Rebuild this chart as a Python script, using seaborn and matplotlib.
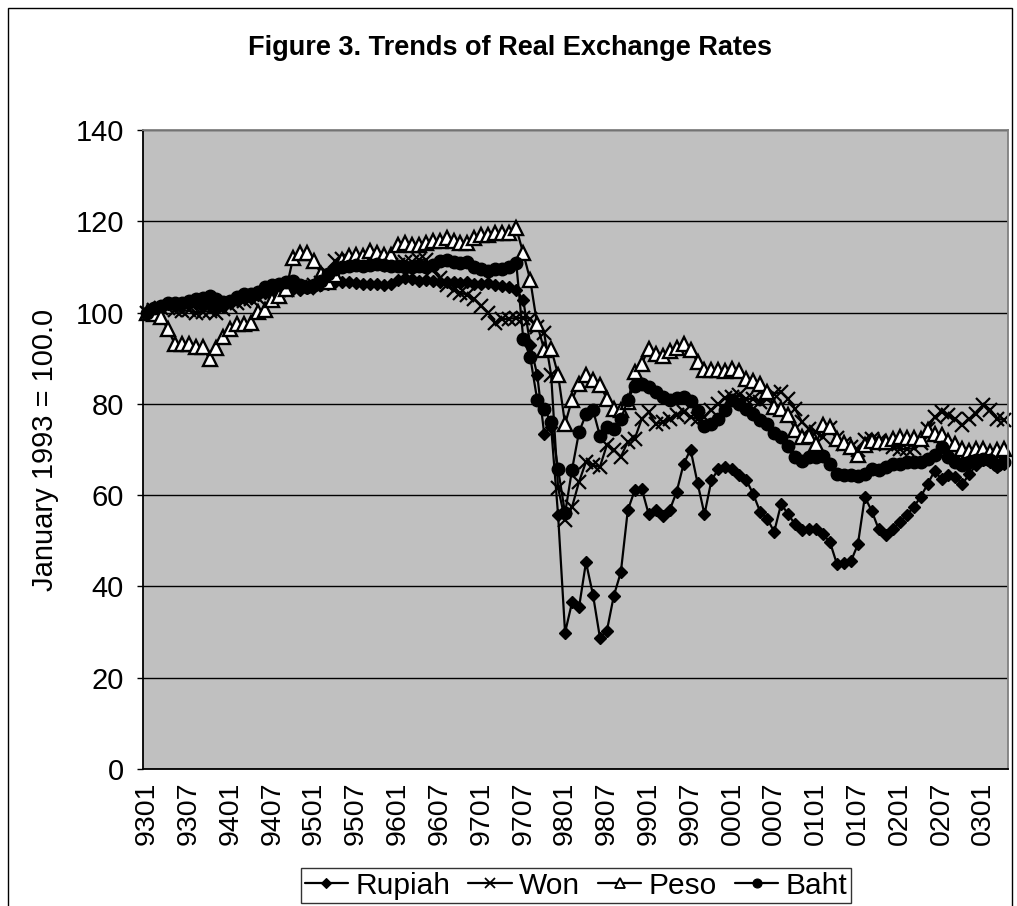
import matplotlib
matplotlib.use("Agg")
import matplotlib.pyplot as plt
import seaborn as sns
import pandas as pd
from matplotlib.lines import Line2D
from matplotlib.patches import Rectangle

# monthly index 9301 .. 0304 (124 months), January 1993 = 100
tick_labels = ["9301", "9307", "9401", "9407", "9501", "9507", "9601", "9607",
               "9701", "9707", "9801", "9807", "9901", "9907", "0001", "0007",
               "0101", "0107", "0201", "0207", "0301"]

rupiah = [100.0, 100.8, 101.5, 101.8, 101.5, 101.6, 102.0, 101.8, 101.5, 101.7, 101.4, 101.2,
          102.3, 102.8, 103.2, 103.3, 103.8, 104.3, 104.6, 104.8, 105.0, 105.2, 105.0, 105.3,
          105.6, 106.0, 106.3, 106.8, 106.6, 106.7, 106.5, 106.3, 106.2, 106.2, 106.0, 106.3,
          107.2, 107.5, 107.3, 107.0, 107.2, 107.0, 106.8, 106.6, 106.8, 106.5, 106.7, 106.3,
          106.2, 106.4, 106.0, 105.8, 105.5, 105.0, 102.8, 93.0, 86.4, 73.5, 75.0, 55.6,
          29.9, 36.5, 35.4, 45.3, 38.2, 28.8, 30.3, 38.0, 43.1, 56.7, 61.1, 61.4,
          55.8, 56.7, 55.4, 56.7, 60.7, 66.8, 70.0, 62.7, 55.8, 63.3, 65.7, 66.2,
          65.7, 64.4, 63.3, 60.2, 56.3, 54.8, 52.0, 58.1, 55.8, 53.6, 52.3, 52.5,
          52.5, 51.4, 49.7, 44.9, 45.1, 45.5, 49.2, 59.6, 56.5, 52.5, 51.2, 52.5,
          54.1, 55.6, 57.4, 59.6, 62.4, 65.3, 63.5, 64.4, 64.0, 62.4, 64.7, 66.6,
          67.7, 67.3, 66.2, 66.9]

won = [100.0, 100.5, 101.0, 101.0, 100.5, 100.3, 100.5, 100.0, 100.2, 100.3, 100.0, 100.8,
       101.5, 102.0, 102.5, 103.0, 103.3, 104.0, 104.5, 105.0, 105.0, 105.3, 105.5, 105.3,
       106.0, 106.5, 108.5, 111.3, 111.8, 111.5, 111.3, 111.0, 111.2, 111.0, 110.8, 110.5,
       110.5, 111.0, 111.0, 111.5, 111.6, 109.5, 107.5, 106.0, 105.0, 104.4, 103.8, 103.0,
       101.5, 100.0, 97.8, 98.5, 98.7, 98.8, 98.8, 98.7, 96.8, 95.5, 86.4, 61.6,
       54.5, 57.4, 62.9, 67.3, 66.6, 66.2, 71.0, 69.9, 68.4, 71.7, 72.4, 76.7,
       78.2, 75.6, 76.0, 76.7, 77.6, 78.2, 77.1, 76.7, 77.1, 78.7, 80.0, 81.3,
       81.5, 82.0, 81.1, 81.1, 80.4, 81.1, 82.2, 82.6, 81.1, 78.9, 76.0, 74.5,
       73.9, 72.8, 74.8, 72.5, 71.2, 70.5, 70.0, 72.1, 72.4, 71.8, 71.2, 70.5,
       70.1, 70.1, 70.3, 71.5, 74.5, 77.1, 78.2, 77.6, 76.7, 75.4, 76.7, 77.8,
       79.8, 78.7, 76.7, 76.5]

peso = [100.0, 99.6, 99.0, 96.4, 93.2, 93.2, 93.2, 92.5, 92.5, 89.8, 92.2, 94.7,
        96.5, 97.6, 97.6, 97.8, 100.2, 100.6, 102.8, 103.6, 105.2, 112.0, 113.0, 113.0,
        111.2, 108.5, 106.8, 108.3, 111.6, 112.3, 112.7, 112.3, 113.4, 113.0, 112.7, 112.7,
        114.9, 115.2, 114.9, 114.9, 115.2, 115.6, 115.6, 116.3, 115.6, 115.2, 115.2, 116.3,
        117.1, 117.1, 117.4, 117.4, 117.4, 118.5, 113.0, 107.2, 97.4, 91.9, 92.1, 86.4,
        75.6, 80.9, 84.4, 86.4, 85.3, 84.2, 81.1, 78.9, 78.7, 80.4, 87.0, 88.8,
        92.1, 91.0, 90.5, 91.6, 92.3, 93.1, 91.7, 89.2, 87.5, 87.5, 87.5, 87.1,
        87.6, 87.1, 85.5, 85.0, 84.3, 82.7, 79.4, 78.9, 77.6, 74.3, 72.7, 73.0,
        71.2, 75.4, 75.0, 72.4, 71.5, 70.6, 68.9, 71.0, 71.8, 71.6, 71.7, 72.4,
        72.8, 72.6, 72.6, 72.4, 74.3, 73.5, 73.2, 71.9, 71.2, 70.1, 69.7, 70.1,
        70.1, 69.5, 69.8, 70.2]

baht = [100.0, 101.0, 101.5, 102.0, 102.0, 102.2, 102.5, 103.0, 103.3, 103.6, 103.0, 102.3,
        102.5, 103.5, 104.0, 104.0, 104.5, 105.5, 106.0, 106.3, 106.8, 107.0, 106.0, 105.5,
        106.0, 107.0, 108.5, 109.5, 110.0, 110.2, 110.5, 110.3, 110.5, 110.6, 110.5, 110.3,
        110.2, 110.0, 110.0, 110.2, 110.0, 110.5, 111.3, 111.5, 111.0, 110.8, 111.0, 110.0,
        109.5, 109.2, 109.5, 109.5, 110.0, 110.8, 94.3, 90.3, 80.9, 78.9, 76.0, 65.7,
        56.0, 65.6, 73.8, 77.7, 78.7, 73.0, 75.0, 74.5, 76.7, 80.9, 84.0, 84.4,
        83.7, 82.6, 81.6, 80.8, 81.3, 81.5, 80.7, 78.5, 75.2, 75.5, 76.7, 78.7,
        80.9, 80.0, 78.9, 77.8, 76.5, 75.6, 73.7, 72.8, 70.8, 68.4, 67.5, 68.4,
        68.4, 68.6, 66.9, 64.7, 64.4, 64.4, 64.2, 64.7, 65.8, 65.5, 66.2, 66.9,
        66.9, 67.3, 67.3, 67.3, 68.0, 68.8, 70.6, 68.4, 67.3, 66.6, 67.3, 67.7,
        68.0, 67.7, 66.6, 67.3]

df = pd.DataFrame({"Rupiah": rupiah, "Won": won, "Peso": peso, "Baht": baht})
df["m"] = range(len(df))

sns.set_style("white")
plt.rcParams['font.family'] = ['Liberation Sans', 'DejaVu Sans']
plt.rcParams['text.color'] = 'black'
plt.rcParams['xtick.color'] = 'black'
plt.rcParams['ytick.color'] = 'black'

fig = plt.figure(figsize=(10.17, 9.06), dpi=100)
ax = fig.add_axes([0.1409, 0.1512, 0.8500, 0.7053])
ax.set_facecolor('#C0C0C0')

# name, marker, size, face, edge width
styles = [("Rupiah", "D", 6.5, "black", 1.0),
          ("Won", "x", 9.5, "black", 1.6),
          ("Peso", "^", 10.0, "white", 1.7),
          ("Baht", "o", 9.0, "black", 1.0)]

for name, mk, ms, fc, mew in styles:
    sns.lineplot(data=df, x="m", y=name, ax=ax, color="black", lw=1.6,
                 marker=mk, markersize=ms, markerfacecolor=fc,
                 markeredgecolor="black", markeredgewidth=mew, clip_on=False)

ax.set_xlim(-0.5, len(df) - 0.5)
ax.set_ylim(0, 140)
ax.set_yticks(range(0, 141, 20))
ax.yaxis.grid(True, color="black", lw=1.0)
ax.set_axisbelow(True)
ax.set_xlabel("")
ax.set_ylabel("")

ax.set_xticks(range(0, len(df), 6))
ax.set_xticklabels(tick_labels, rotation=90, fontsize=20.5)
ax.set_xticks([k - 0.5 for k in range(6, len(df), 6)], minor=True)
ax.tick_params(axis="x", which="major", length=0, pad=9)
ax.tick_params(axis="x", which="minor", direction="in", length=5, width=1, color="black")
ax.tick_params(axis="y", which="major", direction="out", length=4, width=1,
               color="black", pad=10, labelsize=21, left=True)

for s in ["left", "bottom"]:
    ax.spines[s].set_color("black")
    ax.spines[s].set_linewidth(1.3)
for s in ["top", "right"]:
    ax.spines[s].set_color("#808080")
    ax.spines[s].set_linewidth(1.3)

fig.text(0.501, 0.947, "Figure 3. Trends of Real Exchange Rates",
         ha="center", va="center", fontsize=19.5, fontweight="bold")
fig.text(45 / 1017, 0.503, "January 1993 = 100.0", rotation=90,
         ha="center", va="center", fontsize=21)

handles = []
for name, mk, ms, fc, mew in styles:
    handles.append(Line2D([], [], color="black", lw=1.6, marker=mk,
                          markersize=ms * 0.72, markerfacecolor=fc,
                          markeredgecolor="black", markeredgewidth=mew * 0.8))
leg = fig.legend(handles, [s[0] for s in styles], loc="center",
                 bbox_to_anchor=(576 / 1017, 1 - 885.5 / 906), ncol=4,
                 fontsize=21.5, frameon=True, fancybox=False, edgecolor="black",
                 handlelength=1.45, handletextpad=0.25, columnspacing=0.6,
                 borderpad=0.12, borderaxespad=0)
leg.get_frame().set_linewidth(1.0)

# chart area border
fig.patches.append(Rectangle((8 / 1017, -0.05), (1012 - 8) / 1017, 1.05 - 8 / 906,
                             transform=fig.transFigure, fill=False,
                             edgecolor="black", lw=1.0))

fig.savefig("out.png", dpi=100)
